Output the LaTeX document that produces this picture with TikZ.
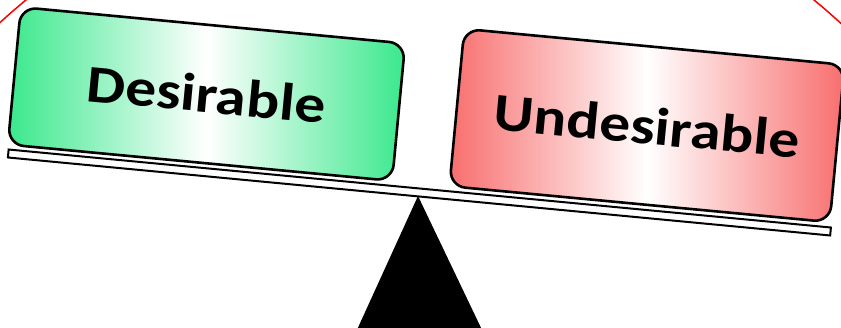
\documentclass[tikz,border=0pt]{standalone}
\usepackage{fontspec}
\setmainfont{Carlito}
\newfontfamily\boardfont[FakeStretch=1.16]{Carlito}
\definecolor{gedge}{RGB}{58,232,140}
\definecolor{redge}{RGB}{248,110,110}
\tikzset{
  board/.style={draw=black, line width=2.6pt, rounded corners=16pt, inner sep=0pt,
    rotate=-5.4, font=\boardfont\bfseries\fontsize{53}{60}\selectfont},
  beamstyle/.style={draw=black, line width=2pt, fill=white, inner sep=0pt,
    minimum width=826pt, minimum height=8pt, rotate=-5.42},
  frame/.style={red, line width=1.5pt}
}
\begin{document}
\begin{tikzpicture}[x=1pt,y=-1pt]
\useasboundingbox (0,0) rectangle (841,328);
\begin{scope}
  \clip (0,0) rectangle (841,328);
  \draw[frame] (420,480) circle (621);
  \coordinate (apex) at (418,196);
  \coordinate (bl) at (356,332);
  \coordinate (br) at (483,332);
  \fill[black] (apex) -- (bl) -- (br) -- cycle;
\end{scope}
\node[beamstyle] (beam) at (419.4,192.5) {};
\node[board, left color=gedge, right color=gedge, middle color=white,
  minimum width=386pt, minimum height=138pt] (good) at (206.5,94) {Desirable};
\node[board, left color=redge, right color=redge, middle color=white,
  minimum width=382pt, minimum height=158pt] (bad) at (647,125.5) {Undesirable};
\end{tikzpicture}
\end{document}
